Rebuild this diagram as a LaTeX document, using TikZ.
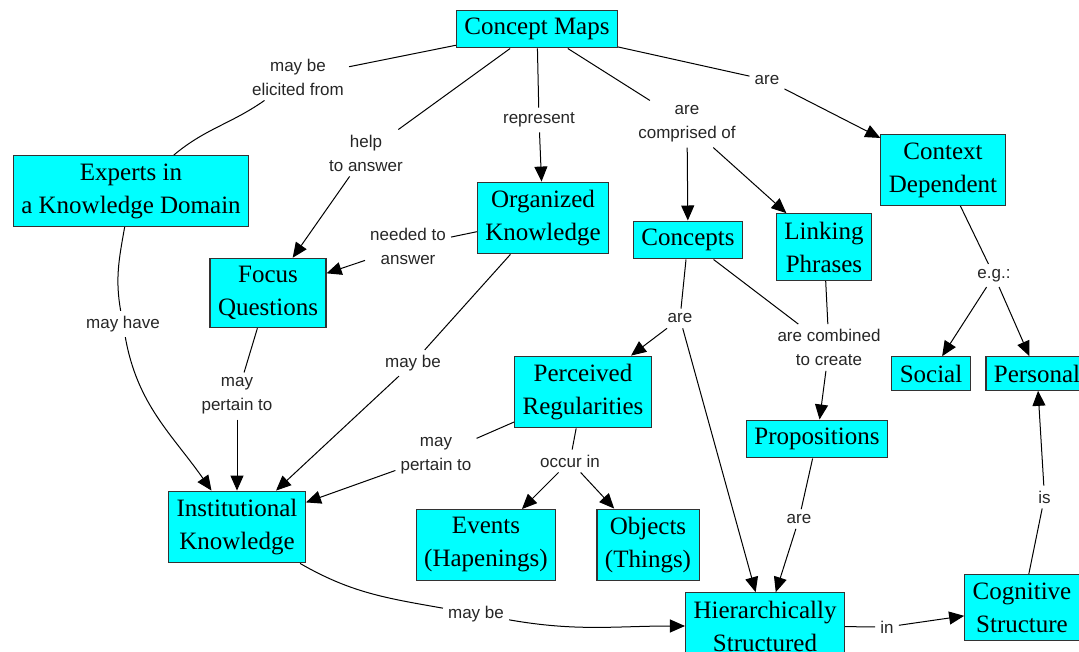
\documentclass[tikz,border=0pt]{standalone}
\usepackage{fontspec}
\setmainfont{Liberation Serif}
\setsansfont{Liberation Sans}
\usetikzlibrary{arrows.meta}
\definecolor{conceptfill}{RGB}{0,255,255}
\tikzstyle{concept}=[rectangle,draw=black!80,fill=conceptfill,line width=1.1pt,inner xsep=8pt,inner ysep=8pt,align=center,font=\fontsize{25}{33}\selectfont]
\tikzstyle{phrase}=[align=center,inner sep=5pt,text=black!85,font=\sffamily\fontsize{17}{24}\selectfont]
\tikzstyle{edge} = [draw,line width=1pt,-{Triangle[length=15pt,width=13pt]}]
\tikzstyle{undirectededge} = [draw,line width=1pt]

\begin{document}
\begin{tikzpicture}[x=1pt,y=1pt]
\useasboundingbox (0,0) rectangle (1079,651);

    % First we draw the concepts
    \foreach \pos/\name/\lbl in {{(537,622)/cmap/Concept Maps}, {(131,460)/experts/Experts in\\a Knowledge Domain},
        {(268,358)/focus/Focus\\Questions}, {(543,433)/orgknow/Organized\\Knowledge}, {(688,411)/concepts/Concepts},
        {(824,404)/linking/Linking\\Phrases}, {(943,481)/context/Context\\Dependent}, {(237,124)/instknow/Institutional\\Knowledge},
        {(583,259)/percreg/Perceived\\Regularities}, {(486,106)/events/Events\\(Hapenings)}, {(648,106)/objects/Objects\\(Things)},
        {(765,25)/hier/Hierarchically\\Structured}, {(817,212)/props/Propositions}, {(931,277.5)/social/Social},
        {(1037,277.5)/personal/Personal}, {(1022,43.5)/cogstruct/Cognitive\\Structure}}
        \node[concept] (\name) at \pos {\lbl};

    % Then the linking phrases
    \foreach \pos/\name/\lbl in {{(298,574)/elicited/may be\\elicited from}, {(366,498)/helpans/help\\to answer},
        {(539,531)/represent/represent}, {(687,527)/comprised/are\\comprised of}, {(767,571)/areA/are},
        {(408,405)/needed/needed to\\answer}, {(123,327)/mayhave/may have}, {(994,375.5)/eg/e.g.:},
        {(680,332.5)/areB/are}, {(829,303.5)/combined/are combined\\to create}, {(237,255)/pertainA/may\\pertain to},
        {(413,288)/maybeA/may be}, {(436,195)/pertainB/may\\pertain to}, {(570,190)/occur/occur in},
        {(476,37)/maybeB/may be}, {(799,132)/areC/are}, {(887,24)/inlbl/in}, {(1044.5,154)/islbl/is}}
        \node[phrase] (\name) at \pos {\lbl};

    % Connect concepts to linking phrases
    \foreach \source/\dest in {cmap/elicited, cmap/represent, cmap/comprised, cmap/areA, cmap/helpans,
        orgknow/needed, orgknow/maybeA, focus/pertainA, concepts/areB, concepts/combined, linking/combined,
        context/eg, percreg/pertainB, percreg/occur, props/areC, hier/inlbl, cogstruct/islbl}
        \path[undirectededge] (\source) -- (\dest);
    \path[undirectededge] (elicited) to[out=215,in=40] (experts);
    \path[undirectededge] (experts) to[out=260,in=100] (mayhave);
    \path[undirectededge] (instknow) to[out=-30,in=170] (maybeB);

    % Connect linking phrases to concepts
    \foreach \source/\dest in {represent/orgknow, comprised/concepts, comprised/linking, areA/context,
        helpans/focus, needed/focus, pertainA/instknow, maybeA/instknow, areB/percreg, areB/hier,
        combined/props, eg/social, eg/personal, pertainB/instknow, occur/events, occur/objects,
        areC/hier, inlbl/cogstruct, islbl/personal}
        \path[edge] (\source) -- (\dest);
    \path[edge] (mayhave) to[out=280,in=125] (instknow);
    \path[edge] (maybeB) to[out=-10,in=180] (hier);

\end{tikzpicture}
\end{document}
